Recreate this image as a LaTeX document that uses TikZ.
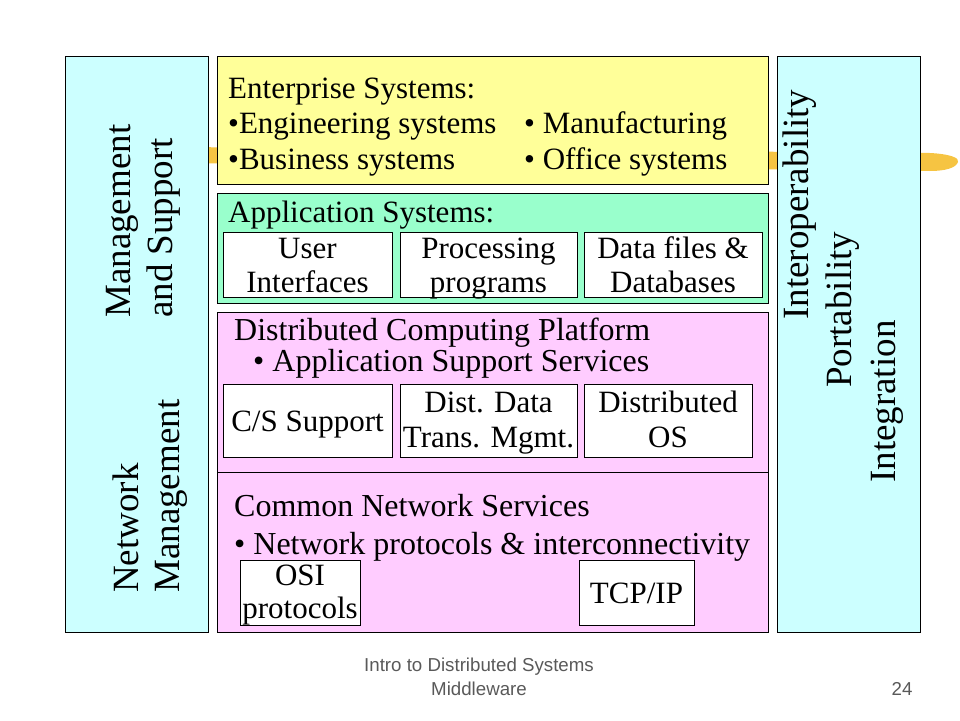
\documentclass[tikz,border=0pt]{standalone}
\usepackage{fontspec}
\setmainfont{Liberation Serif}
\newfontfamily\footfont{Liberation Sans}
\usetikzlibrary{fit}
\definecolor{cyanfill}{RGB}{204,255,255}
\definecolor{yelfill}{RGB}{255,255,153}
\definecolor{grnfill}{RGB}{153,255,204}
\definecolor{pnkfill}{RGB}{255,204,255}
\definecolor{brush}{RGB}{246,196,66}
\definecolor{footgray}{RGB}{89,89,89}
\tikzset{
  panel/.style={draw=black, line width=1pt, inner sep=0pt},
  subbox/.style={draw=black, fill=white, line width=1pt, inner sep=0pt},
  txt/.style={inner sep=0pt, anchor=base west, text=black, font=\fontsize{31}{35}\selectfont},
  wtxt/.style={txt, font=\fontsize{32}{36}\selectfont},
  ctxt/.style={inner sep=0pt, anchor=base, text=black, font=\fontsize{31}{35}\selectfont},
  vtxt/.style={inner sep=0pt, anchor=base west, rotate=90, text=black, font=\fontsize{37}{42}\selectfont},
  foot/.style={inner sep=0pt, anchor=base, text=footgray, font=\footfont\fontsize{18.7}{22}\selectfont},
}
\begin{document}
\begin{tikzpicture}[x=1pt,y=-1pt]
\useasboundingbox (0,0) rectangle (960,720);
% brush stroke behind
\fill[brush] (180,147) -- (930,153) .. controls (950,154) and (960,158) .. (958,162)
  .. controls (956,168) and (945,171) .. (930,171) -- (180,163) -- cycle;
% panels
\node[panel, fill=cyanfill, fit={(65,56) (208,632)}] (left) {};
\node[panel, fill=cyanfill, fit={(777,56) (920,632)}] (right) {};
\node[panel, fill=yelfill, fit={(217,56) (768,184)}] (ent) {};
\node[panel, fill=grnfill, fit={(217,193) (768,303)}] (app) {};
\node[panel, fill=pnkfill, fit={(217,312) (768,632)}] (dcp) {};
\coordinate (divl) at (217,472);
\coordinate (divr) at (768,472);
\draw[line width=1pt] (divl) -- (divr);
% sub boxes
\node[subbox, fit={(223,232) (392,297)}] (ui) {};
\node[subbox, fit={(400,232) (577,297)}] (proc) {};
\node[subbox, fit={(584,232) (762,297)}] (data) {};
\node[subbox, fit={(223,384) (392,457)}] (cs) {};
\node[subbox, fit={(400,384) (577,457)}] (ddtm) {};
\node[subbox, fit={(584,384) (752,457)}] (dos) {};
\node[subbox, fit={(240,560) (360,625)}] (osi) {};
\node[subbox, fit={(579,560) (694,625)}] (tcp) {};
% enterprise texts
\node[txt] (e1) at (228,98) {Enterprise Systems:};
\node[txt] (e2) at (228,133) {•Engineering systems};
\node[txt] (e3) at (228,169) {•Business systems};
\node[txt] (e4) at (524,133) {• Manufacturing};
\node[txt] (e5) at (524,169) {• Office systems};
% application texts
\node[txt] (a1) at (228,222) {Application Systems:};
\node[ctxt] (ui1) at (307.5,258) {User};
\node[ctxt] (ui2) at (307.5,292) {Interfaces};
\node[ctxt] (pr1) at (488.5,258) {Processing};
\node[ctxt] (pr2) at (488.5,292) {programs};
\node[ctxt] (da1) at (673,258) {Data files \&};
\node[ctxt] (da2) at (673,292) {Databases};
% distributed texts
\node[wtxt] (d1) at (234,340) {Distributed Computing Platform};
\node[wtxt] (d2) at (253,371) {• Application Support Services};
\node[ctxt] (cs1) at (307.5,431) {C/S Support};
\node[ctxt] (dd1) at (488.5,412) {Dist. Data};
\node[ctxt] (dd2) at (488.5,447) {Trans. Mgmt.};
\node[ctxt] (os1) at (668,412) {Distributed};
\node[ctxt] (os2) at (668,447) {OS};
% network texts
\node[wtxt] (n1) at (234,516) {Common Network Services};
\node[wtxt] (n2) at (234,554) {• Network protocols \& interconnectivity};
\node[ctxt] (osi1) at (300,585) {OSI};
\node[ctxt] (osi2) at (300,618) {protocols};
\node[ctxt] (tcp1) at (636.5,603) {TCP/IP};
% vertical texts
\node[vtxt] (l1) at (130,318) {Management};
\node[vtxt] (l2) at (172,318) {and Support};
\node[vtxt] (l3) at (138,593) {Network};
\node[vtxt] (l4) at (179,593) {Management};
\node[vtxt] (r1) at (808,320) {Interoperability};
\node[vtxt] (r2) at (851,388) {Portability};
\node[vtxt] (r3) at (895,483) {Integration};
% footer
\node[foot] (f1) at (479,671) {Intro to Distributed Systems};
\node[foot] (f2) at (479,695) {Middleware};
\node[foot] (f3) at (902,695) {24};
\end{tikzpicture}
\end{document}
